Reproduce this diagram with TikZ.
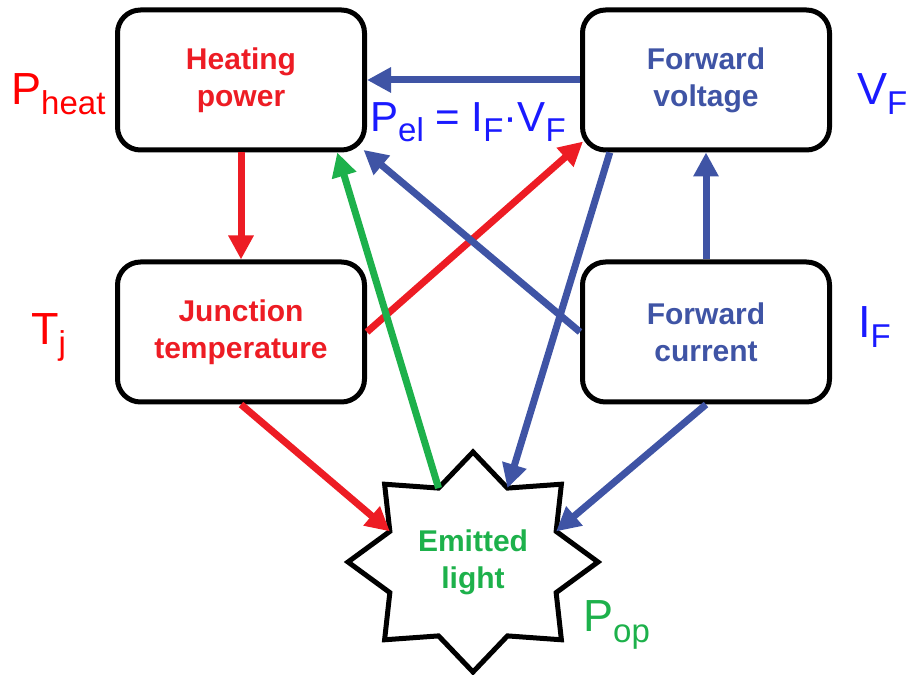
\documentclass[tikz,border=0pt]{standalone}
\usepackage{fontspec}
\setmainfont{Liberation Sans}
\usetikzlibrary{arrows.meta}
\definecolor{arrowred}{RGB}{237,28,36}
\definecolor{arrowblue}{RGB}{63,84,165}
\definecolor{emitgreen}{RGB}{29,177,75}
\definecolor{labelred}{RGB}{255,0,0}
\definecolor{labelblue}{RGB}{26,26,255}
\newcommand{\lowsub}[1]{\raisebox{-10pt}{\fontsize{33}{33}\selectfont #1}}

\begin{document}
\begin{tikzpicture}[x=1pt, y=1pt,
  box/.style={draw, line width=5pt, rounded corners=23pt, minimum width=247pt, minimum height=140pt, align=center, font=\fontsize{30}{37}\selectfont\bfseries},
  link/.style={line width=7pt, arrows={-{Triangle[length=24pt,width=24pt]}}},
  var/.style={inner sep=0pt, anchor=base west, font=\fontsize{45}{45}\selectfont}]
\useasboundingbox (0, 0) rectangle (909, 674);

\node (heat) [box, text=arrowred] at (241, 594) {Heating\\power};
\node (volt) [box, text=arrowblue] at (706, 594) {Forward\\voltage};
\node (junc) [box, text=arrowred] at (241, 342) {Junction\\temperature};
\node (curr) [box, text=arrowblue] at (706, 342) {Forward\\current};
\node (light) [align=center, text=emitgreen, font=\fontsize{30}{37}\selectfont\bfseries] at (473, 112) {Emitted\\light};

\draw [line width=5pt, shift={(light.center)}] (90:125 and 110)
  \foreach \a [count=\i] in {90,135,...,405} {-- ({\a+22.5}:90 and 80) coordinate (in\i) -- ({\a+45}:125 and 110)} -- cycle;

\node (pheat) [var, text=labelred] at (11, 569) {P\lowsub{heat}};
\node (vf) [var, text=labelblue] at (857, 569) {V\lowsub{F}};
\node (tj) [var, text=labelred] at (31, 329) {T\lowsub{j}};
\node (if) [var, text=labelblue] at (858, 336) {I\lowsub{F}};
\node (pel) [var, text=labelblue, font=\fontsize{42}{42}\selectfont] at (370, 542) {P\lowsub{el} = I\lowsub{F}·V\lowsub{F}};
\node (pop) [var, text=emitgreen] at (583, 42) {P\lowsub{op}};

\draw [link, arrowblue] (volt.west) -- (heat.east);
\draw [link, arrowred] (heat) -- (junc);
\draw [link, arrowblue] (curr) -- (volt);
\draw [link, arrowred, shorten >=-4pt] (junc.east) -- (volt.207);
\draw [link, arrowblue, shorten >=-4pt] (curr.west) -- (heat.-30);
\draw [link, emitgreen] (in1) -- (heat.-37);
\draw [link, arrowblue] (volt.217) -- (in8);
\draw [link, arrowred] (junc.south) -- (in2);
\draw [link, arrowblue] (curr.south) -- (in7);
\end{tikzpicture}
\end{document}
